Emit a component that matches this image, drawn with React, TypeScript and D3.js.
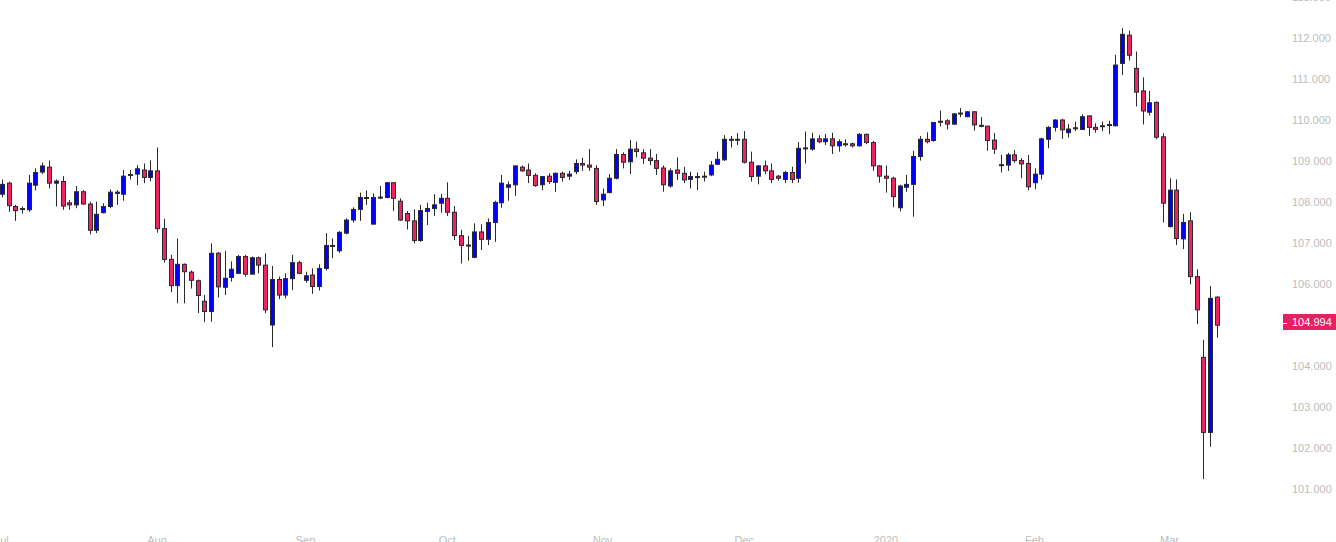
import React from "react";
import * as d3 from "d3";

// Daily USD/JPY-style candles, Jul 2019 – Mar 2020
const opens = [
  108.19, 108.46, 107.89, 107.84, 107.81, 108.41, 108.73, 108.85, 108.46, 108.50,
  107.98, 107.93, 108.25, 107.95, 107.31, 107.74, 107.89, 108.21, 108.19, 108.65,
  108.68, 108.78, 108.60, 108.76, 107.35, 106.60, 105.96, 106.48, 106.29, 106.08,
  105.58, 105.33, 106.75, 105.92, 106.16, 106.26, 106.67, 106.24, 106.64, 106.46,
  105.00, 106.11, 105.73, 106.13, 106.52, 106.09, 106.22, 105.94, 106.38, 106.92,
  106.81, 107.24, 107.56, 107.82, 108.09, 107.46, 108.10, 108.11, 108.47, 108.02,
  107.72, 107.54, 107.06, 107.77, 107.84, 107.97, 108.09, 107.75, 107.18, 106.95,
  106.65, 107.27, 107.09, 107.50, 107.98, 108.36, 108.42, 108.85, 108.78, 108.65,
  108.42, 108.63, 108.48, 108.70, 108.63, 108.74, 108.94, 108.90, 108.82, 108.05,
  108.23, 108.58, 109.16, 108.98, 109.29, 109.20, 109.07, 109.01, 108.83, 108.39,
  108.78, 108.70, 108.55, 108.60, 108.62, 108.66, 108.92, 109.03, 109.52, 109.53,
  109.53, 108.97, 108.63, 108.88, 108.76, 108.63, 108.55, 108.72, 108.58, 109.30,
  109.29, 109.54, 109.47, 109.54, 109.37, 109.40, 109.42, 109.37, 109.65, 109.45,
  108.88, 108.63, 108.58, 107.86, 108.36, 108.43, 109.11, 109.53, 109.50, 109.95,
  109.98, 109.90, 110.16, 110.08, 110.20, 109.87, 109.85, 109.51, 108.89, 108.90,
  109.15, 109.01, 108.94, 108.47, 108.68, 109.53, 109.82, 110.00, 109.69, 109.79,
  109.77, 110.10, 109.82, 109.85, 109.87, 109.86, 111.38, 112.07, 111.26, 110.71,
  110.19, 110.43, 109.59, 107.40, 108.29, 107.10, 107.54, 106.18, 104.21, 102.38,
  105.68,
];
const highs = [
  108.55, 108.50, 107.93, 107.89, 108.66, 108.82, 108.96, 109.01, 108.55, 108.63,
  108.05, 108.39, 108.29, 108.01, 108.01, 107.97, 108.31, 108.29, 108.78, 108.78,
  108.90, 108.94, 109.02, 109.33, 107.59, 106.71, 107.11, 106.50, 106.33, 106.11,
  105.73, 106.99, 106.78, 106.81, 106.55, 106.71, 106.71, 106.67, 106.67, 106.75,
  106.44, 106.18, 106.26, 106.71, 106.57, 106.30, 106.38, 106.48, 107.24, 107.11,
  107.29, 107.60, 107.87, 108.23, 108.28, 108.21, 108.39, 108.49, 108.48, 108.09,
  107.78, 107.82, 107.93, 107.98, 108.19, 108.20, 108.48, 107.90, 107.32, 107.17,
  107.48, 107.46, 107.60, 108.03, 108.66, 108.50, 108.90, 108.89, 108.94, 108.70,
  108.63, 108.70, 108.72, 108.74, 108.76, 109.04, 109.08, 109.29, 108.90, 108.33,
  108.68, 109.29, 109.21, 109.51, 109.47, 109.29, 109.29, 109.17, 108.89, 108.82,
  109.09, 108.86, 108.74, 108.72, 108.74, 109.00, 109.23, 109.63, 109.61, 109.68,
  109.73, 109.23, 108.90, 109.01, 108.94, 108.66, 108.76, 108.86, 109.46, 109.72,
  109.69, 109.63, 109.66, 109.69, 109.53, 109.53, 109.45, 109.68, 109.67, 109.49,
  108.90, 108.89, 108.62, 108.42, 108.66, 109.25, 109.61, 109.70, 109.95, 110.23,
  110.02, 110.16, 110.29, 110.22, 110.22, 110.07, 109.85, 109.68, 109.15, 109.20,
  109.27, 109.07, 109.15, 108.82, 109.57, 109.85, 110.02, 110.03, 109.90, 109.96,
  110.14, 110.11, 109.92, 109.96, 109.98, 111.59, 112.24, 112.18, 111.67, 111.04,
  110.71, 110.45, 109.68, 108.58, 108.55, 107.71, 107.75, 106.36, 104.64, 105.95,
  105.70,
];
const lows = [
  108.11, 107.76, 107.54, 107.72, 107.76, 108.28, 108.68, 108.33, 107.89, 107.81,
  107.81, 107.85, 107.94, 107.21, 107.24, 107.72, 107.85, 107.93, 108.03, 108.55,
  108.41, 108.46, 108.50, 107.25, 106.52, 105.80, 105.53, 105.53, 105.89, 105.29,
  105.07, 105.08, 105.67, 105.73, 106.06, 106.24, 106.18, 106.24, 106.26, 105.29,
  104.46, 105.63, 105.65, 105.85, 106.24, 106.03, 105.76, 105.84, 106.33, 106.63,
  106.76, 107.21, 107.50, 107.54, 107.93, 107.46, 108.07, 108.09, 107.78, 107.54,
  107.33, 106.99, 107.03, 107.44, 107.66, 107.74, 107.66, 107.07, 106.50, 106.57,
  106.63, 106.83, 106.95, 107.03, 107.86, 108.03, 108.15, 108.74, 108.46, 108.37,
  108.29, 108.44, 108.25, 108.50, 108.54, 108.68, 108.76, 108.76, 107.93, 107.90,
  108.21, 108.55, 108.82, 108.68, 109.09, 108.93, 108.90, 108.66, 108.25, 108.35,
  108.54, 108.46, 108.33, 108.29, 108.50, 108.63, 108.90, 109.00, 109.33, 109.39,
  108.94, 108.50, 108.43, 108.68, 108.46, 108.52, 108.46, 108.46, 108.47, 108.94,
  109.25, 109.43, 109.39, 109.17, 109.23, 109.35, 109.33, 109.35, 109.41, 108.76,
  108.47, 108.23, 107.87, 107.77, 108.25, 107.64, 109.01, 109.43, 109.47, 109.84,
  109.77, 109.88, 110.07, 110.07, 109.74, 109.82, 109.25, 109.17, 108.72, 108.76,
  108.96, 108.58, 108.29, 108.31, 108.55, 109.31, 109.72, 109.54, 109.57, 109.73,
  109.76, 109.61, 109.69, 109.73, 109.66, 109.84, 111.10, 111.45, 110.33, 109.89,
  110.11, 109.53, 107.50, 107.38, 106.95, 106.85, 105.99, 105.02, 101.24, 102.03,
  104.69,
];
const closes = [
  108.43, 107.91, 107.79, 107.82, 108.46, 108.72, 108.88, 108.46, 108.51, 107.90,
  107.93, 108.25, 107.95, 107.31, 107.70, 107.89, 108.24, 108.24, 108.63, 108.67,
  108.81, 108.60, 108.76, 107.35, 106.60, 105.96, 106.48, 106.30, 106.09, 105.72,
  105.33, 106.75, 105.93, 106.14, 106.36, 106.67, 106.24, 106.64, 106.46, 105.37,
  106.11, 105.73, 106.13, 106.52, 106.26, 106.20, 105.94, 106.38, 106.94, 106.94,
  107.26, 107.56, 107.82, 108.11, 108.11, 108.11, 108.12, 108.47, 108.09, 107.56,
  107.54, 107.06, 107.79, 107.84, 107.93, 108.09, 107.75, 107.18, 106.94, 106.93,
  107.27, 107.09, 107.50, 107.99, 108.46, 108.42, 108.88, 108.76, 108.65, 108.40,
  108.62, 108.50, 108.70, 108.60, 108.68, 108.94, 108.90, 108.85, 108.01, 108.19,
  108.58, 109.16, 108.97, 109.29, 109.23, 109.07, 109.01, 108.82, 108.42, 108.76,
  108.70, 108.54, 108.62, 108.62, 108.63, 108.90, 109.04, 109.53, 109.53, 109.51,
  108.97, 108.62, 108.88, 108.76, 108.55, 108.58, 108.72, 108.55, 109.31, 109.32,
  109.54, 109.47, 109.54, 109.37, 109.47, 109.42, 109.37, 109.65, 109.45, 108.88,
  108.63, 108.58, 108.13, 108.39, 108.43, 109.11, 109.53, 109.47, 109.94, 109.97,
  109.90, 110.15, 110.17, 110.20, 109.88, 109.85, 109.50, 109.29, 108.91, 109.15,
  109.01, 108.93, 108.37, 108.68, 109.54, 109.82, 110.00, 109.76, 109.78, 109.81,
  110.08, 109.82, 109.77, 109.86, 109.89, 111.34, 112.09, 111.58, 110.68, 110.22,
  110.42, 109.58, 107.97, 108.29, 107.11, 107.50, 106.18, 105.37, 102.38, 105.65,
  104.994,
];

// Month tick labels and the bar index each month starts at
const monthLabels = ["Jul", "Aug", "Sep", "Oct", "Nov", "Dec", "2020", "Feb", "Mar"];
const monthStartIndex = [0, 23, 45, 66, 89, 110, 131, 153, 173];

// Price axis ticks
const priceTicks = [101, 102, 103, 104, 105, 106, 107, 108, 109, 110, 111, 112, 113];

const W = 1336;
const H = 542;
const UP = "#0000ff";
const DOWN = "#ee2560";
const AXIS_TEXT = "#bdbdbd";
const FONT = "'Liberation Sans', Arial, sans-serif";

export default function App() {
  const n = closes.length;
  const x = d3.scaleLinear().domain([0, n - 1]).range([1.75, 1.75 + 6.75 * (n - 1)]);
  const y = d3.scaleLinear().domain([101, 112]).range([489, 38]);
  const plotRight = 1282;
  const bodyW = 4;
  const fmt = d3.format(".3f");

  const last = closes[n - 1];
  const lastY = y(last);
  const boxTop = Math.round(lastY) - 11;
  // ticks hidden behind the last-price marker are not drawn
  const visibleTicks = priceTicks.filter((t) => Math.abs(y(t) - (boxTop + 8)) > 14);

  return (
    <svg
      width={W}
      height={H}
      style={{ position: "absolute", left: 0, top: 0, display: "block", background: "#ffffff" }}
    >
      <defs>
        <clipPath id="plot">
          <rect x={0} y={0} width={plotRight} height={H} />
        </clipPath>
      </defs>
      <rect x={0} y={0} width={W} height={H} fill="#ffffff" />
      <g clipPath="url(#plot)">
        {closes.map((c, i) => {
          const o = opens[i];
          const up = c >= o;
          const cx = Math.round(x(i)) + 0.5;
          const top = y(Math.max(o, c));
          const bot = y(Math.min(o, c));
          const bh = Math.max(1, bot - top);
          return (
            <g key={i}>
              <line
                x1={cx}
                x2={cx}
                y1={y(highs[i])}
                y2={y(lows[i])}
                stroke="#2a2a2a"
                strokeWidth={1}
              />
              <rect
                x={cx - bodyW / 2}
                y={top}
                width={bodyW}
                height={bh}
                fill={up ? UP : DOWN}
                stroke="#2a2a2a"
                strokeWidth={1}
              />
            </g>
          );
        })}
      </g>
      {/* price axis labels */}
      <g fontFamily={FONT} fontSize={11} fill={AXIS_TEXT}>
        {visibleTicks.map((t) => (
          <text key={t} x={1292} y={y(t)} dy="0.35em" textAnchor="start">
            {fmt(t)}
          </text>
        ))}
      </g>
      {/* last price marker */}
      <g>
        <rect x={1283} y={boxTop} width={W - 1283} height={16} fill="#e91e63" />
        <line x1={1283} x2={1287} y1={boxTop + 9.5} y2={boxTop + 9.5} stroke="#ffffff" strokeWidth={1} />
        <text
          x={1292}
          y={boxTop + 8}
          dy="0.35em"
          fontFamily={FONT}
          fontSize={11}
          fill="#ffffff"
        >
          {fmt(last)}
        </text>
      </g>
      {/* time axis labels */}
      <g fontFamily={FONT} fontSize={11} fill={AXIS_TEXT}>
        {monthLabels.map((m, k) => (
          <text key={m} x={x(monthStartIndex[k])} y={544} textAnchor="middle">
            {m}
          </text>
        ))}
      </g>
    </svg>
  );
}
